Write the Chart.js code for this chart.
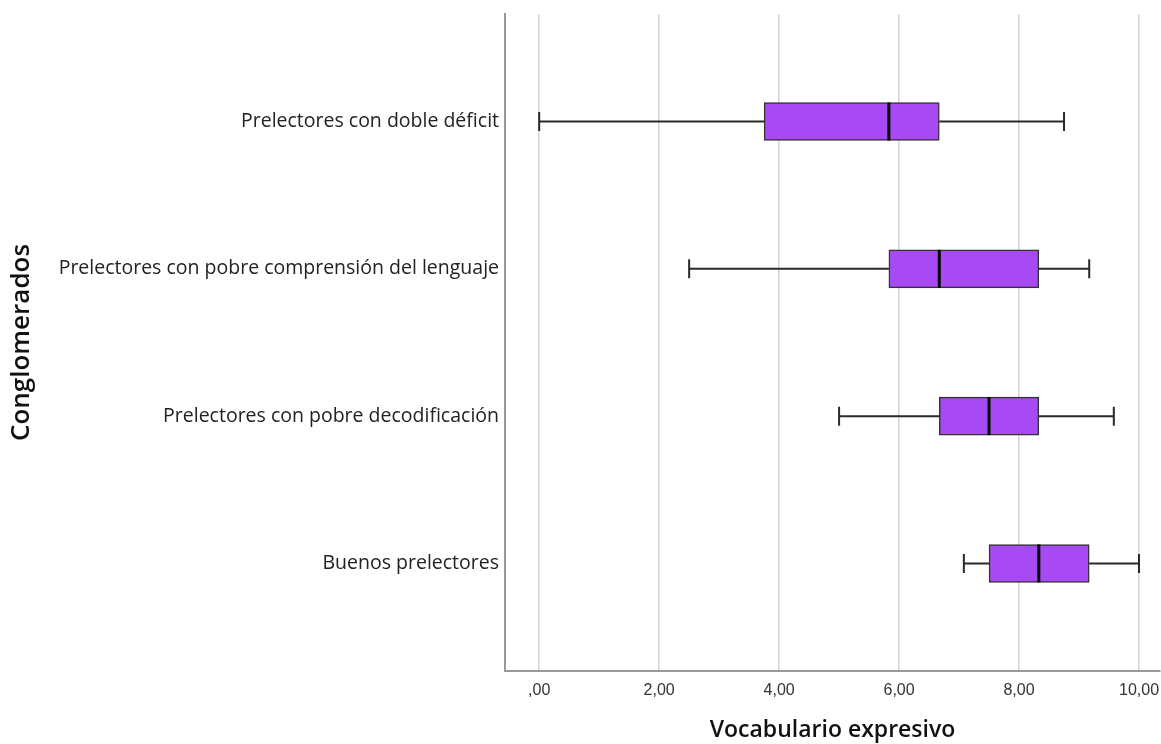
<!DOCTYPE html>
<html><head><meta charset="utf-8">
<script src="https://cdn.jsdelivr.net/npm/chart.js@4"></script>
<style>html,body{margin:0;padding:0;background:#fff}#wrap{width:1161px;height:744px}</style>
</head><body><div id="wrap"><canvas id="c" width="1161" height="744"></canvas></div>
<script>
const categories = ["Prelectores con doble déficit","Prelectores con pobre comprensión del lenguaje","Prelectores con pobre decodificación","Buenos prelectores"];
const minVals = [0, 2.5, 5.0, 7.08];
const q1Vals = [3.75, 5.83, 6.67, 7.5];
const medVals = [5.83, 6.67, 7.5, 8.33];
const q3Vals = [6.67, 8.33, 8.33, 9.17];
const maxVals = [8.75, 9.17, 9.58, 10.0];
const xTickValues = [0, 2, 4, 6, 8, 10];
const xTickLabels = [",00", "2,00", "4,00", "6,00", "8,00", "10,00"];

const boxData = categories.map((c, i) => ({x: [q1Vals[i], q3Vals[i]], y: i}));

const whiskerPlugin = {
  id: 'whiskers',
  afterDatasetsDraw(chart) {
    const ctx = chart.ctx, xs = chart.scales.x, ys = chart.scales.y;
    ctx.save();
    categories.forEach((c, i) => {
      const y = ys.getPixelForValue(i);
      const pMin = xs.getPixelForValue(minVals[i]), pQ1 = xs.getPixelForValue(q1Vals[i]);
      const pQ3 = xs.getPixelForValue(q3Vals[i]), pMax = xs.getPixelForValue(maxVals[i]);
      const pMed = xs.getPixelForValue(medVals[i]);
      ctx.strokeStyle = '#2a2a2a'; ctx.lineWidth = 2;
      ctx.beginPath();
      ctx.moveTo(pMin, y); ctx.lineTo(pQ1, y);
      ctx.moveTo(pQ3, y); ctx.lineTo(pMax, y);
      ctx.moveTo(pMin, y - 9.5); ctx.lineTo(pMin, y + 9.5);
      ctx.moveTo(pMax, y - 9.5); ctx.lineTo(pMax, y + 9.5);
      ctx.stroke();
      ctx.strokeStyle = '#000'; ctx.lineWidth = 3;
      ctx.beginPath();
      ctx.moveTo(pMed, y - 19); ctx.lineTo(pMed, y + 19);
      ctx.stroke();
    });
    ctx.restore();
  }
};

new Chart(document.getElementById('c'), {
  type: 'bar',
  data: {
    datasets: [{
      data: boxData,
      backgroundColor: '#a84af3',
      borderColor: '#333333',
      borderWidth: 1.5,
      borderSkipped: false,
      barThickness: 38
    }]
  },
  plugins: [whiskerPlugin],
  options: {
    responsive: false,
    animation: false,
    indexAxis: 'y',
    layout: {padding: {top: 14, right: 1, left: 0, bottom: 0}},
    plugins: {legend: {display: false}, tooltip: {enabled: false}},
    scales: {
      x: {
        type: 'linear', min: -0.57, max: 10.35, offset: false,
        afterBuildTicks: s => { s.ticks = xTickValues.map(v => ({value: v})); },
        afterFit: s => { s.height = 73; s.paddingLeft = 0; s.paddingRight = 0; },
        ticks: {
          callback: (v, i) => xTickLabels[i],
          font: {family: 'Liberation Sans', size: 16}, color: '#333', padding: 10, maxRotation: 0
        },
        grid: {color: '#d4d4d4', lineWidth: 1.5, drawTicks: false},
        border: {color: '#9a9a9a', width: 2},
        title: {display: true, text: 'Vocabulario expresivo', font: {family: 'Open Sans', size: 23, weight: '600'}, color: '#111', padding: {top: 0, bottom: 0}}
      },
      y: {
        type: 'linear', min: -0.73, max: 3.73, reverse: true, offset: false,
        afterBuildTicks: s => { s.ticks = categories.map((c, i) => ({value: i})); },
        afterFit: s => { s.width = 505; s.paddingTop = 0; s.paddingBottom = 0; },
        ticks: {
          callback: (v) => categories[v],
          font: {family: 'Open Sans', size: 19.5}, color: '#222', padding: 6
        },
        grid: {display: false, drawTicks: false},
        border: {display: true, color: '#9a9a9a', width: 2},
        title: {display: true, text: 'Conglomerados', font: {family: 'Open Sans', size: 26, weight: '600'}, color: '#111', padding: {top: 6, bottom: 0}}
      }
    }
  }
});
</script></body></html>
